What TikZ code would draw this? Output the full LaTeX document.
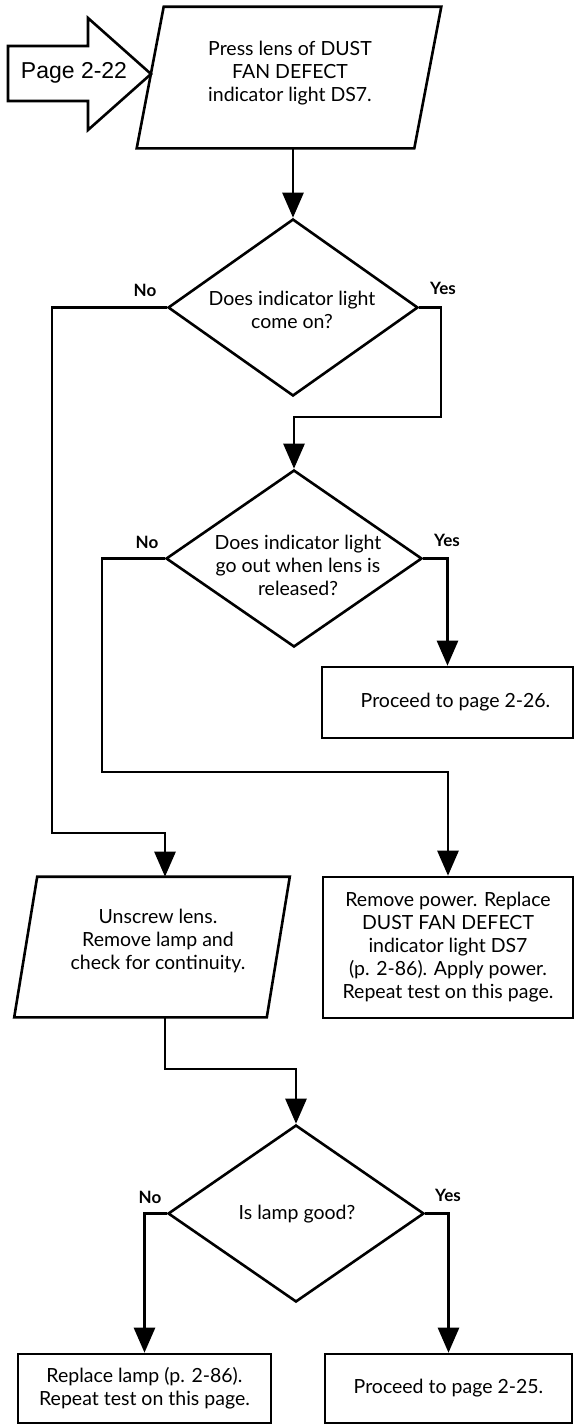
\documentclass[tikz,border=0pt]{standalone}
\usepackage{fontspec}
\setmainfont{Lato}
\newfontfamily\helv{Liberation Sans}
\usetikzlibrary{arrows.meta,shapes.geometric,calc}
\begin{document}
\begin{tikzpicture}[x=1pt,y=-1pt,line width=2.6pt,
  txt/.style={font=\fontsize{19.5}{23}\selectfont,align=center,inner sep=0pt},
  lbl/.style={font=\bfseries\fontsize{17}{19}\selectfont,inner sep=0pt},
  dec/.style={diamond,draw,minimum width=#1,minimum height=177pt,inner sep=0pt},
  box/.style={draw,rectangle,inner sep=0pt,align=center,font=\fontsize{19.5}{23}\selectfont},
  slot/.style={inner sep=0pt},
  arr/.style={-{Triangle[length=25pt,width=21pt]}}]
\useasboundingbox (0,0) rectangle (576,1425);

% entry arrow
\draw[fill=white] (8,46) -- (88,46) -- (88,18) -- (151,74) -- (88,130) -- (88,101) -- (8,101) -- cycle;
\node[inner sep=0pt,font=\helv\fontsize{23}{26}\selectfont] (pg) at (74,73) {Page 2-22};

% top parallelogram
\node[slot,minimum width=275pt,minimum height=139pt] (p1) at (289,77.5) {};
\draw ($(p1.north west)+(13.5,0)$) -- ($(p1.north east)+(13.5,0)$) -- ($(p1.south east)+(-13.5,0)$) -- ($(p1.south west)+(-13.5,0)$) -- cycle;
\node[txt] (p1t) at (290,73) {Press lens of DUST\\FAN DEFECT\\indicator light DS7.};

% decision 1
\node[dec=250pt] (d1) at (293,307.5) {};
\node[txt] (d1t) at (292,310) {Does indicator light\\come on?};
\node[lbl] (d1n) at (145,290) {No};
\node[lbl] (d1y) at (443,288) {Yes};

% decision 2
\node[dec=256pt] (d2) at (294,558.5) {};
\node[txt] (d2t) at (298,565) {Does indicator light\\go out when lens is\\released?};
\node[lbl] (d2n) at (147,542) {No};
\node[lbl] (d2y) at (447,540) {Yes};

% box proceed 2-26
\node[box,minimum width=251pt,minimum height=71pt] (p26) at (447.5,702.5) {\hspace*{16pt}Proceed to page 2-26.};

% unscrew parallelogram
\node[slot,minimum width=250pt,minimum height=138pt] (u) at (152,947) {};
\draw ($(u.north west)+(11.5,0)$) -- ($(u.north east)+(11.5,0)$) -- ($(u.south east)+(-11.5,0)$) -- ($(u.south west)+(-11.5,0)$) -- cycle;
\node[txt] (ut) at (158,941) {Unscrew lens.\\Remove lamp and\\check for continuity.};

% remove power box
\node[box,minimum width=250pt,minimum height=141pt] (rp) at (448,947.5) {Remove power. Replace\\DUST FAN DEFECT\\indicator light DS7\\(p. 2-86). Apply power.\\Repeat test on this page.};

% decision 3
\node[dec=256pt] (d3) at (296,1213.5) {};
\node[txt] (d3t) at (297,1214) {Is lamp good?};
\node[lbl] (d3n) at (150,1197) {No};
\node[lbl] (d3y) at (448,1195) {Yes};

% bottom boxes
\node[box,minimum width=253pt,minimum height=69pt] (rl) at (144.5,1388.5) {Replace lamp (p. 2-86).\\Repeat test on this page.};
\node[box,minimum width=247pt,minimum height=69pt] (p25) at (448.5,1388.5) {Proceed to page 2-25.};

% connectors
\draw[arr] (d1.north |- p1.south) -- (d1.north);
\coordinate (y1) at (441,417);
\draw[arr] (d1.east) -| (y1) -| (d2.north);
\coordinate (n1) at (52,833);
\draw[arr] (d1.west) -| (n1) -| ([xshift=13pt]u.north);
\coordinate (n2) at (102,772);
\draw[arr] (d2.west) -| (n2) -| (rp.north);
\draw[arr] (d2.east) -| (p26.north);
\coordinate (u3) at (165,1069);
\draw[arr] ([xshift=13pt]u.south) -- (u3) -| (d3.north);
\draw[arr] (d3.west) -| (rl.north);
\draw[arr] (d3.east) -| (p25.north);
\end{tikzpicture}
\end{document}
